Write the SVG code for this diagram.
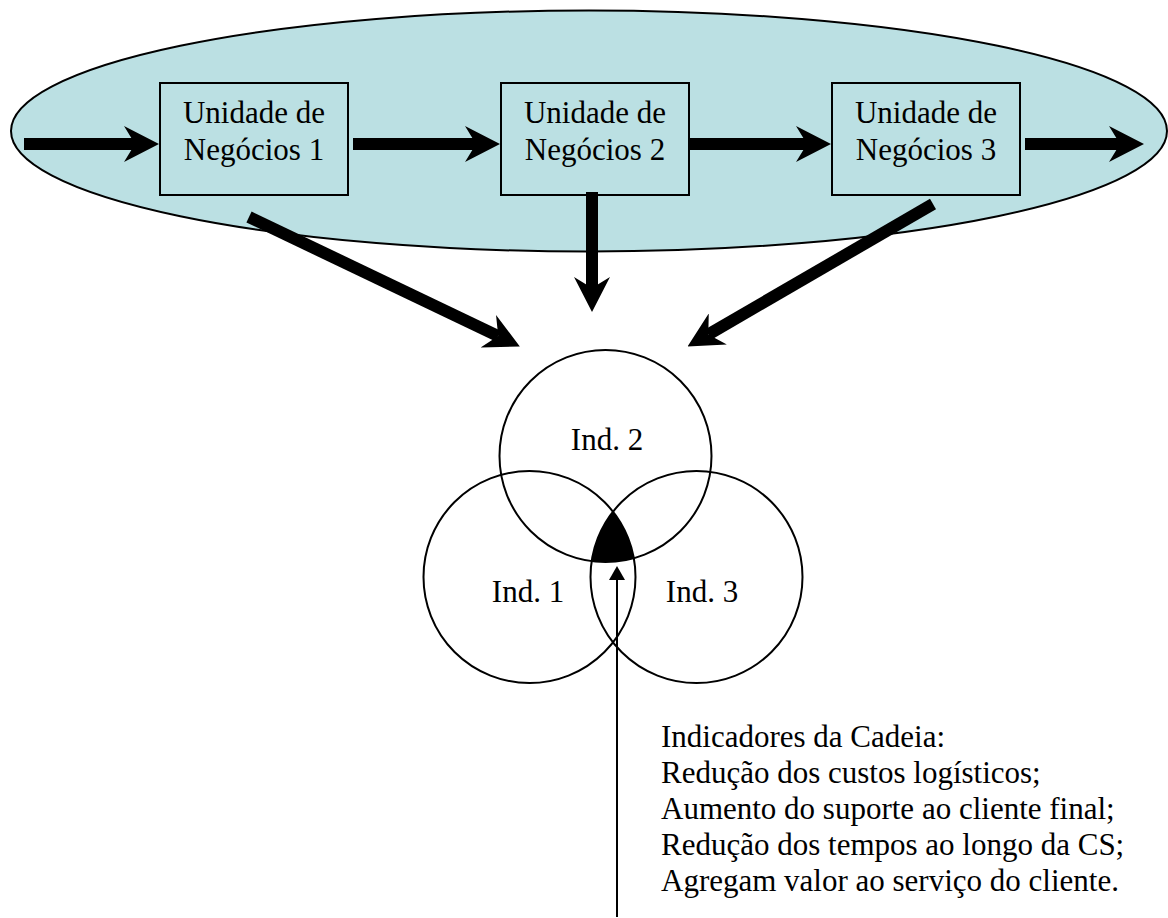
<svg xmlns="http://www.w3.org/2000/svg" width="1168" height="918" viewBox="0 0 1168 918">
  <style>
    text { font-family: "Liberation Serif", Tinos, "Times New Roman", Times, "Nimbus Roman", "DejaVu Serif", serif; font-size: 31px; fill: #000; }
    .mid { text-anchor: middle; }
    .unit { fill: #bbe0e3; stroke: #000; stroke-width: 2; }
    .ring { fill: none; stroke: #000; stroke-width: 2; }
    .flow { stroke: #000; stroke-width: 12; fill: none; marker-end: url(#stealth); }
  </style>
  <defs>
    <!-- notched block arrowhead, reference point at the notch -->
    <marker id="stealth" viewBox="0 0 35 36" markerWidth="35" markerHeight="36" markerUnits="userSpaceOnUse" refX="11" refY="18" orient="auto">
      <path d="M0,0 L35,18 L0,36 L11,18 Z" fill="#000"/>
    </marker>
    <marker id="thin" viewBox="0 0 16 16" markerWidth="16" markerHeight="16" markerUnits="userSpaceOnUse" refX="2" refY="8" orient="auto">
      <path d="M0,0 L14,8 L0,16 Z" fill="#000"/>
    </marker>
    <clipPath id="clipInd2"><circle cx="605.5" cy="456" r="106"/></clipPath>
    <clipPath id="clipInd3"><circle cx="696.5" cy="577" r="106"/></clipPath>
  </defs>

  <rect width="1168" height="918" fill="#fff"/>

  <!-- supply chain envelope -->
  <g id="chain">
    <ellipse cx="589" cy="131" rx="578" ry="120.5" fill="#bbe0e3" stroke="#000" stroke-width="2"/>
  </g>

  <g id="unit1">
    <rect class="unit" x="160" y="83" width="188" height="112"/>
    <text class="mid" x="254" y="123">Unidade de</text>
    <text class="mid" x="254" y="160">Negócios 1</text>
  </g>
  <g id="unit2">
    <rect class="unit" x="501" y="83" width="188" height="112"/>
    <text class="mid" x="595" y="123">Unidade de</text>
    <text class="mid" x="595" y="160">Negócios 2</text>
  </g>
  <g id="unit3">
    <rect class="unit" x="832" y="83" width="188" height="112"/>
    <text class="mid" x="926" y="123">Unidade de</text>
    <text class="mid" x="926" y="160">Negócios 3</text>
  </g>

  <!-- indicator circles -->
  <g id="ind2">
    <circle class="ring" cx="605.5" cy="456" r="106"/>
    <text class="mid" x="607" y="450">Ind. 2</text>
  </g>
  <g id="ind1">
    <circle class="ring" cx="529.5" cy="577" r="106"/>
    <text class="mid" x="528" y="602">Ind. 1</text>
  </g>
  <g id="ind3">
    <circle class="ring" cx="696.5" cy="577" r="106"/>
    <text class="mid" x="702" y="602">Ind. 3</text>
  </g>

  <!-- common area of the three indicators -->
  <g id="common" clip-path="url(#clipInd2)">
    <circle cx="529.5" cy="577" r="106" fill="#000" clip-path="url(#clipInd3)"/>
  </g>

  <g id="chain-indicators">
    <text x="661" y="747">Indicadores da Cadeia:</text>
    <text x="661" y="783">Redução dos custos logísticos;</text>
    <text x="661" y="819">Aumento do suporte ao cliente final;</text>
    <text x="661" y="855">Redução dos tempos ao longo da CS;</text>
    <text x="661" y="891">Agregam valor ao serviço do cliente.</text>
  </g>

  <g id="connectors">
    <!-- flow through the business units -->
    <line class="flow" x1="24" y1="144" x2="135" y2="144"/>
    <line class="flow" x1="353" y1="144" x2="476" y2="144"/>
    <line class="flow" x1="689" y1="144" x2="807" y2="144"/>
    <line class="flow" x1="1025" y1="144" x2="1120" y2="144"/>
    <!-- units feeding the indicators -->
    <line class="flow" x1="249" y1="217" x2="498.2" y2="336.1"/>
    <line class="flow" x1="592" y1="192" x2="592" y2="288"/>
    <line class="flow" x1="933" y1="204" x2="708.3" y2="334.5"/>
    <!-- pointer from the text block to the common area -->
    <line x1="617" y1="917" x2="617" y2="578" stroke="#000" stroke-width="2" marker-end="url(#thin)"/>
  </g>
</svg>
